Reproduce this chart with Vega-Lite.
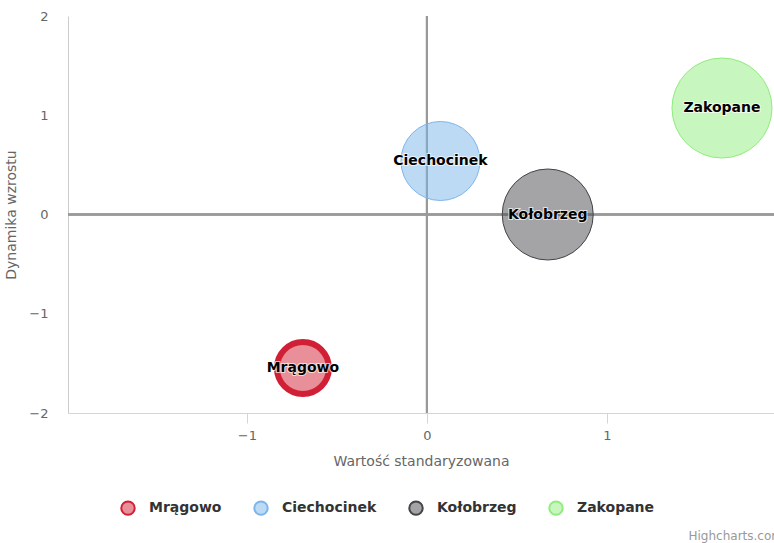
{
  "$schema": "https://vega.github.io/schema/vega-lite/v6.json",
  "width": 706,
  "height": 397,
  "autosize": "none",
  "padding": {"left": 68, "top": 16, "right": 0, "bottom": 130},
  "background": "white",
  "config": {
    "view": {"stroke": null},
    "font": "DejaVu Sans"
  },
  "title": {
    "text": "Highcharts.com",
    "orient": "bottom",
    "anchor": "end",
    "frame": "group",
    "fontSize": 12,
    "fontWeight": "normal",
    "color": "#999999",
    "offset": 12,
    "dx": 9
  },
  "data": {
    "values": [
      {"city": "Mrągowo", "x": -0.689, "y": -1.547, "z": 27.0},
      {"city": "Ciechocinek", "x": 0.075, "y": 0.539, "z": 62.4},
      {"city": "Kołobrzeg", "x": 0.671, "y": 0.0, "z": 82.8},
      {"city": "Zakopane", "x": 1.639, "y": 1.073, "z": 100}
    ]
  },
  "layer": [
    {
      "mark": {"type": "rule", "color": "#999999", "strokeWidth": 2},
      "encoding": {"x": {"datum": 0, "type": "quantitative"}}
    },
    {
      "mark": {"type": "rule", "color": "#999999", "strokeWidth": 2},
      "encoding": {"y": {"datum": 0, "type": "quantitative"}}
    },
    {
      "mark": {"type": "circle", "fillOpacity": 0.5, "strokeOpacity": 1, "clip": true},
      "encoding": {
        "x": {
          "field": "x", "type": "quantitative",
          "scale": {"domain": [-1.994, 1.928], "nice": false, "zero": false},
          "axis": {
            "values": [-1, 0, 1],
            "format": "d",
            "title": "Wartość standaryzowana",
            "titleFontSize": 14, "titleFontWeight": "normal", "titleColor": "#666666", "titlePadding": 12,
            "labelFontSize": 13, "labelColor": "#666666", "labelPadding": 6,
            "domainColor": "#ccd6eb", "tickColor": "#ccd6eb", "tickSize": 10,
            "grid": false
          }
        },
        "y": {
          "field": "y", "type": "quantitative",
          "scale": {"domain": [-2, 2], "nice": false},
          "axis": {
            "values": [-2, -1, 0, 1, 2],
            "format": "d",
            "title": "Dynamika wzrostu",
            "titleFontSize": 14, "titleFontWeight": "normal", "titleColor": "#666666", "titlePadding": 10,
            "labelFontSize": 13, "labelColor": "#666666", "labelPadding": 20,
            "domainColor": "#cccccc", "ticks": false,
            "grid": false
          }
        },
        "size": {
          "field": "z", "type": "quantitative",
          "scale": {"domain": [0, 100], "range": [0, 10000]},
          "legend": null
        },
        "fill": {
          "field": "city", "type": "nominal",
          "sort": ["Mrągowo", "Ciechocinek", "Kołobrzeg", "Zakopane"],
          "scale": {"domain": ["Mrągowo", "Ciechocinek", "Kołobrzeg", "Zakopane"], "range": ["#d12036", "#7cb5ec", "#4a4a4e", "#90ed7d"]},
          "legend": {
            "title": null,
            "orient": "none",
            "direction": "horizontal",
            "legendX": 52,
            "legendY": 484,
            "symbolType": "circle",
            "symbolSize": 180,
            "symbolStrokeWidth": 2,
            "labelFontSize": 14,
            "labelFontWeight": "bold",
            "labelColor": "#333333",
            "labelOffset": 13,
            "columnPadding": 28,
            "encode": {"symbols": {"update": {"fillOpacity": {"value": 0.5}}}}
          }
        },
        "stroke": {
          "field": "city", "type": "nominal",
          "sort": ["Mrągowo", "Ciechocinek", "Kołobrzeg", "Zakopane"],
          "scale": {"domain": ["Mrągowo", "Ciechocinek", "Kołobrzeg", "Zakopane"], "range": ["#d12036", "#7cb5ec", "#434348", "#90ed7d"]},
          "legend": {
            "title": null,
            "orient": "none",
            "direction": "horizontal",
            "legendX": 52,
            "legendY": 484,
            "symbolType": "circle",
            "symbolSize": 180,
            "symbolStrokeWidth": 2,
            "labelFontSize": 14,
            "labelFontWeight": "bold",
            "labelColor": "#333333",
            "labelOffset": 13,
            "columnPadding": 28,
            "encode": {"symbols": {"update": {"fillOpacity": {"value": 0.5}}}}
          }
        },
        "strokeWidth": {
          "condition": {"test": "datum.city === 'Mrągowo'", "value": 6},
          "value": 1
        }
      }
    },
    {
      "mark": {"type": "text", "fontSize": 14, "fontWeight": "bold", "color": "white", "stroke": "white", "strokeWidth": 2, "strokeOpacity": 0.7, "clip": true},
      "encoding": {
        "x": {"field": "x", "type": "quantitative"},
        "y": {"field": "y", "type": "quantitative"},
        "text": {"field": "city"}
      }
    },
    {
      "mark": {"type": "text", "fontSize": 14, "fontWeight": "bold", "color": "#000000", "clip": true},
      "encoding": {
        "x": {"field": "x", "type": "quantitative"},
        "y": {"field": "y", "type": "quantitative"},
        "text": {"field": "city"}
      }
    }
  ]
}
